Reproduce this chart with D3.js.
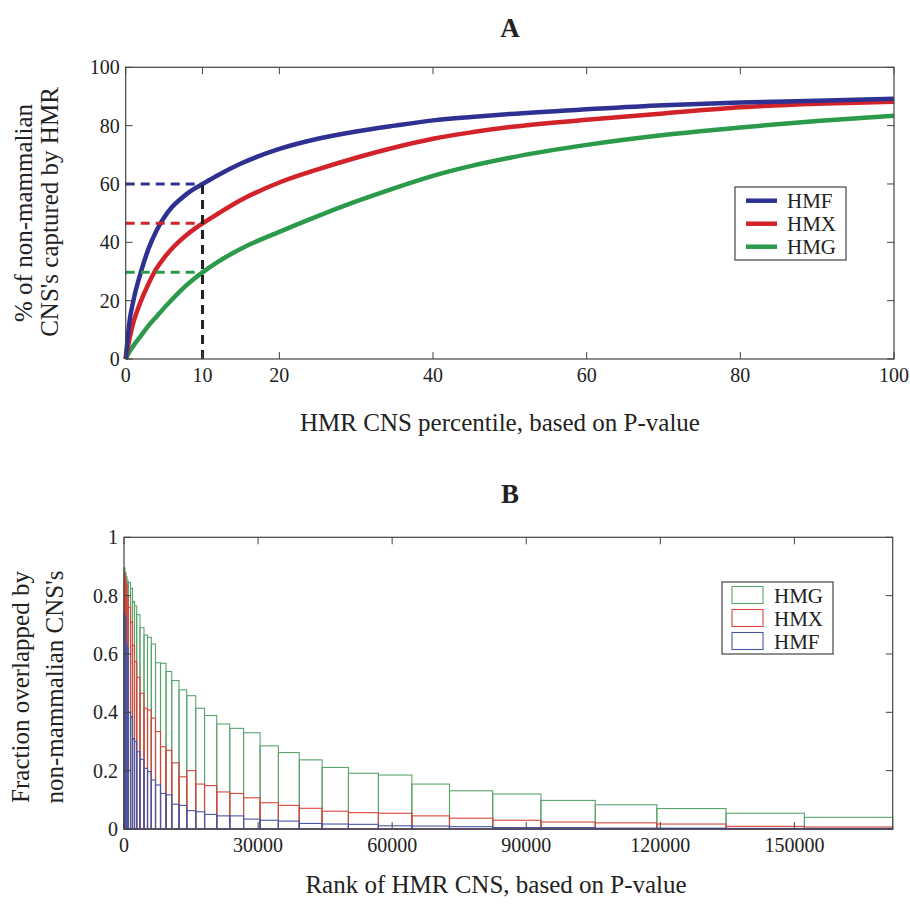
<!DOCTYPE html>
<html><head><meta charset="utf-8">
<script src="https://cdn.jsdelivr.net/npm/d3@7"></script>
<style>
body{margin:0;background:#fff;}
svg text{font-family:"Liberation Serif","Times New Roman",serif;fill:#222;}
</style></head>
<body><svg id="c" width="910" height="907"></svg>
<script>
// ---------- Panel A data ----------
const percentile = [0,0.5,1,2,3,4,5,6,7,8,9,10,12,15,20,25,30,35,40,45,50,60,70,80,90,100];
const hmfCurve = [0,13,20,30,38,44,48.5,52,54.5,56.7,58.5,60,63,67,72,75.5,78,80,81.8,83,84,85.6,87,87.9,88.5,89.2];
const hmxCurve = [0,7,12.5,20,26,31,34.7,37.8,40.4,42.7,44.7,46.5,49.8,54.5,60.5,65,69,72.5,75.5,77.7,79.5,82,84.2,86.3,87.5,88.2];
const hmgCurve = [0,2.5,4.5,8,11.5,14.5,17.5,20.3,23,25.5,27.7,29.7,33.3,37.8,43.6,49,54,58.6,62.8,66.2,69,73.4,76.8,79.4,81.6,83.4];
const cutoffX = 10;
const cutoffY = {HMF:60, HMX:46.5, HMG:29.7};
const xTicksA = [0,10,20,40,60,80,100];
const yTicksA = [0,20,40,60,80,100];

// ---------- Panel B data ----------
const binEdges = [0,220,450,670,960,1460,1900,2350,2840,3580,4480,5260,6110,7050,8170,9400,10680,12310,14040,16050,18020,20750,23660,26750,30450,34550,39220,44330,50220,56930,64410,72830,82500,93290,105450,119220,134710,152240,172000];
const hmgFrac = [0.895,0.88,0.865,0.85,0.845,0.825,0.78,0.765,0.735,0.69,0.665,0.657,0.634,0.57,0.568,0.54,0.509,0.477,0.457,0.414,0.389,0.36,0.345,0.33,0.285,0.262,0.237,0.211,0.191,0.185,0.154,0.131,0.12,0.098,0.083,0.07,0.054,0.04];
const hmxFrac = [0.877,0.86,0.84,0.80,0.76,0.71,0.63,0.574,0.52,0.465,0.414,0.408,0.38,0.334,0.282,0.27,0.227,0.179,0.2,0.154,0.149,0.127,0.122,0.107,0.09,0.081,0.071,0.061,0.056,0.054,0.045,0.037,0.03,0.024,0.021,0.017,0.009,0.007];
const hmfFrac = [0.74,0.73,0.64,0.62,0.40,0.385,0.31,0.30,0.265,0.239,0.208,0.197,0.168,0.151,0.122,0.117,0.085,0.081,0.063,0.059,0.05,0.045,0.045,0.034,0.03,0.027,0.019,0.017,0.016,0.011,0.010,0.008,0.005,0.005,0.003,0.003,0.002,0.002];
const xTicksB = [0,30000,60000,90000,120000,150000];
const yTicksB = [0,0.2,0.4,0.6,0.8,1];

const col = {HMF:"#2e3192", HMX:"#d2232a", HMG:"#2b9a4a"};
const colB = {HMF:"#4a55a8", HMX:"#d8453c", HMG:"#5aa46c"};

const svg = d3.select("#c");
const axisCol = "#444";
const LBL = 25;

function frame(g, x, y, xt, yt){
  const [x0,x1] = x.range(), [y0,y1] = y.range();
  const tl = 7;
  xt.forEach(t=>{
    g.append("line").attr("x1",x(t)).attr("x2",x(t)).attr("y1",y0).attr("y2",y0-tl).attr("stroke",axisCol);
    g.append("line").attr("x1",x(t)).attr("x2",x(t)).attr("y1",y1).attr("y2",y1+tl).attr("stroke",axisCol);
    g.append("text").attr("x",x(t)).attr("y",y0+23).attr("text-anchor","middle").attr("font-size",20).text(t);
  });
  yt.forEach(t=>{
    g.append("line").attr("x1",x0).attr("x2",x0+tl).attr("y1",y(t)).attr("y2",y(t)).attr("stroke",axisCol);
    g.append("line").attr("x1",x1).attr("x2",x1-tl).attr("y1",y(t)).attr("y2",y(t)).attr("stroke",axisCol);
    g.append("text").attr("x",x0-6).attr("y",y(t)+7).attr("text-anchor","end").attr("font-size",20).text(t);
  });
  g.append("rect").attr("x",x0).attr("y",y1).attr("width",x1-x0).attr("height",y0-y1)
    .attr("fill","none").attr("stroke",axisCol).attr("stroke-width",1.2);
}

// ---------- Panel A ----------
const xA = d3.scaleLinear().domain([0,100]).range([125.7,894]);
const yA = d3.scaleLinear().domain([0,100]).range([359,67.3]);
const gA = svg.append("g");
const line = d3.line().x((d,i)=>xA(percentile[i])).y(d=>yA(d)).curve(d3.curveMonotoneX);
[["HMG",hmgCurve],["HMX",hmxCurve],["HMF",hmfCurve]].forEach(([k,arr])=>{
  gA.append("path").attr("d",line(arr)).attr("fill","none").attr("stroke",col[k]).attr("stroke-width",4.5);
});
["HMF","HMX","HMG"].forEach(k=>{
  gA.append("line").attr("x1",xA(0)).attr("x2",xA(cutoffX)).attr("y1",yA(cutoffY[k])).attr("y2",yA(cutoffY[k]))
    .attr("stroke",col[k]).attr("stroke-width",3).attr("stroke-dasharray","9,6");
});
gA.append("line").attr("x1",xA(cutoffX)).attr("x2",xA(cutoffX)).attr("y1",yA(0)).attr("y2",yA(cutoffY.HMF))
  .attr("stroke","#222").attr("stroke-width",3).attr("stroke-dasharray","9,6");
frame(gA, xA, yA, xTicksA, yTicksA);
gA.append("text").attr("x",510).attr("y",37).attr("text-anchor","middle").attr("font-size",27).attr("font-weight","bold").text("A");
gA.append("text").attr("x",500).attr("y",431).attr("text-anchor","middle").attr("font-size",LBL).text("HMR CNS percentile, based on P-value");
gA.append("text").attr("transform","translate(32,213) rotate(-90)").attr("text-anchor","middle").attr("font-size",LBL).text("% of non-mammalian");
gA.append("text").attr("transform","translate(58,212) rotate(-90)").attr("text-anchor","middle").attr("font-size",LBL).text("CNS's captured by HMR");
// legend A
const lgA = gA.append("g");
lgA.append("rect").attr("x",735).attr("y",187).attr("width",111).attr("height",73).attr("fill","#fff").attr("stroke","#444").attr("stroke-width",1.2);
["HMF","HMX","HMG"].forEach((k,i)=>{
  const yy = 200.7 + i*23;
  lgA.append("line").attr("x1",746).attr("x2",777).attr("y1",yy).attr("y2",yy).attr("stroke",col[k]).attr("stroke-width",4.5);
  lgA.append("text").attr("x",787).attr("y",yy+7.5).attr("font-size",21).text(k);
});

// ---------- Panel B ----------
const xB = d3.scaleLinear().domain([0,172000]).range([124,892.7]);
const yB = d3.scaleLinear().domain([0,1]).range([829,537.3]);
const gB = svg.append("g");
[["HMG",hmgFrac],["HMX",hmxFrac],["HMF",hmfFrac]].forEach(([k,arr])=>{
  gB.append("g").selectAll("rect").data(arr).join("rect")
    .attr("x",(d,i)=>xB(binEdges[i]))
    .attr("width",(d,i)=>xB(binEdges[i+1])-xB(binEdges[i]))
    .attr("y",d=>yB(d))
    .attr("height",d=>yB(0)-yB(d))
    .attr("fill","none").attr("stroke",colB[k]).attr("stroke-width",1.1);
});
frame(gB, xB, yB, xTicksB, yTicksB);
gB.append("text").attr("x",510).attr("y",503).attr("text-anchor","middle").attr("font-size",27).attr("font-weight","bold").text("B");
gB.append("text").attr("x",496).attr("y",893).attr("text-anchor","middle").attr("font-size",LBL).text("Rank of HMR CNS, based on P-value");
gB.append("text").attr("transform","translate(29,687) rotate(-90)").attr("text-anchor","middle").attr("font-size",LBL).text("Fraction overlapped by");
gB.append("text").attr("transform","translate(63,687) rotate(-90)").attr("text-anchor","middle").attr("font-size",LBL).text("non-mammalian CNS's");
const lgB = gB.append("g");
lgB.append("rect").attr("x",722).attr("y",582).attr("width",111).attr("height",72).attr("fill","#fff").attr("stroke","#444").attr("stroke-width",1.2);
["HMG","HMX","HMF"].forEach((k,i)=>{
  const yy = 595 + i*23;
  lgB.append("rect").attr("x",732).attr("y",yy-8.5).attr("width",31).attr("height",17).attr("fill","none").attr("stroke",colB[k]).attr("stroke-width",1.1);
  lgB.append("text").attr("x",774).attr("y",yy+7.5).attr("font-size",21).text(k);
});
</script></body></html>
